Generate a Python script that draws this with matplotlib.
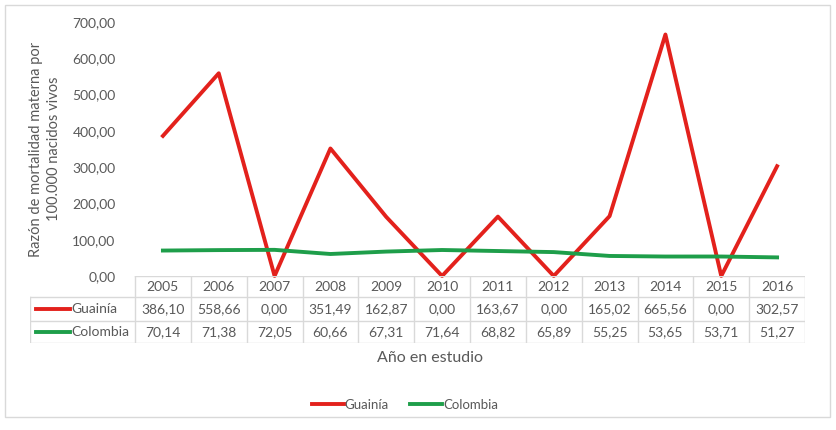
import matplotlib
matplotlib.use("Agg")
import matplotlib.pyplot as plt
from matplotlib.lines import Line2D
from matplotlib.patches import Rectangle

years = ["2005", "2006", "2007", "2008", "2009", "2010",
         "2011", "2012", "2013", "2014", "2015", "2016"]
guainia = [386.10, 558.66, 0.00, 351.49, 162.87, 0.00,
           163.67, 0.00, 165.02, 665.56, 0.00, 302.57]
colombia = [70.14, 71.38, 72.05, 60.66, 67.31, 71.64,
            68.82, 65.89, 55.25, 53.65, 53.71, 51.27]
series_names = ["Guainía", "Colombia"]
series_colors = ["#e3211c", "#1e9e4a"]
yticks = [0, 100, 200, 300, 400, 500, 600, 700]

TXT = "#595959"
GRID = "#d9d9d9"
plt.rcParams['font.family'] = ['Lato', 'DejaVu Sans']


def fmt(v):
    return f"{v:.2f}".replace(".", ",")


W, H = 836, 430
fig = plt.figure(figsize=(W / 100, H / 100), dpi=100)

# outer chart border
fig.patches.append(Rectangle((5 / W, 1 - 417 / H), 825 / W, 412 / H,
                             transform=fig.transFigure, fill=False,
                             edgecolor=GRID, linewidth=1))

# main line plot
ax = fig.add_axes([135 / W, 1 - 276 / H, 670 / W, 254 / H])
x = list(range(len(years)))
all_series = [guainia, colombia]
for vals, name, col in zip(all_series, series_names, series_colors):
    ax.plot(x, vals, color=col, linewidth=2.8, label=name, clip_on=False)
ax.set_xlim(-0.5, len(years) - 0.5)
ax.set_ylim(0, 700)
ax.set_yticks(yticks)
ax.set_yticklabels([fmt(v) for v in yticks], color=TXT, fontsize=10)
ax.tick_params(axis='y', length=0, pad=14)
ax.set_xticks([])
for s in ax.spines.values():
    s.set_visible(False)
ax.set_ylabel("Razón de mortalidad materna por\n100.000 nacidos vivos",
              color=TXT, fontsize=10.5, labelpad=8, linespacing=1.35)

# data table below the plot
unit = 670 / 12
left_px = 30
tab = fig.add_axes([left_px / W, 1 - 343 / H, (805 - left_px) / W, 67 / H])
x0 = -0.5 - (135 - left_px) / unit
tab.set_xlim(x0, len(years) - 0.5)
tab.set_ylim(3, 0)
tab.axis('off')
row_h = [0, 0.95, 2.0, 3.0]
# horizontal lines
tab.plot([-0.5, len(years) - 0.5], [row_h[0]] * 2, color=GRID, lw=1)
for yy in row_h[1:]:
    tab.plot([x0, len(years) - 0.5], [yy, yy], color=GRID, lw=1)
# vertical lines
tab.plot([x0, x0], [row_h[1], row_h[3]], color=GRID, lw=1)
for i in range(len(years) + 1):
    tab.plot([i - 0.5, i - 0.5], [row_h[0], row_h[3]], color=GRID, lw=1)
# header
for i, yr in enumerate(years):
    tab.text(i, (row_h[0] + row_h[1]) / 2, yr, ha='center', va='center',
             color=TXT, fontsize=10)
# rows
for r, (vals, name, col) in enumerate(zip(all_series, series_names, series_colors)):
    yc = (row_h[r + 1] + row_h[r + 2]) / 2
    for i, v in enumerate(vals):
        tab.text(i, yc, fmt(v), ha='center', va='center', color=TXT, fontsize=10)
    tab.add_line(Line2D([x0 + 0.1, x0 + 0.72], [yc, yc], color=col, lw=2.8))
    tab.text(x0 + 0.74, yc, name, ha='left', va='center', color=TXT, fontsize=10)

fig.text(430 / W, 1 - 358 / H, "Año en estudio", ha='center', va='center',
         color=TXT, fontsize=11.5)

handles = [Line2D([], [], color=c, lw=2.8) for c in series_colors]
leg = fig.legend(handles, series_names, loc='center', bbox_to_anchor=(405 / W, 1 - 405 / H),
                 ncol=2, frameon=False, fontsize=9.5, handlelength=2.4,
                 handletextpad=0.1, columnspacing=1.6)
for t in leg.get_texts():
    t.set_color(TXT)

fig.savefig("out.png", dpi=100)
